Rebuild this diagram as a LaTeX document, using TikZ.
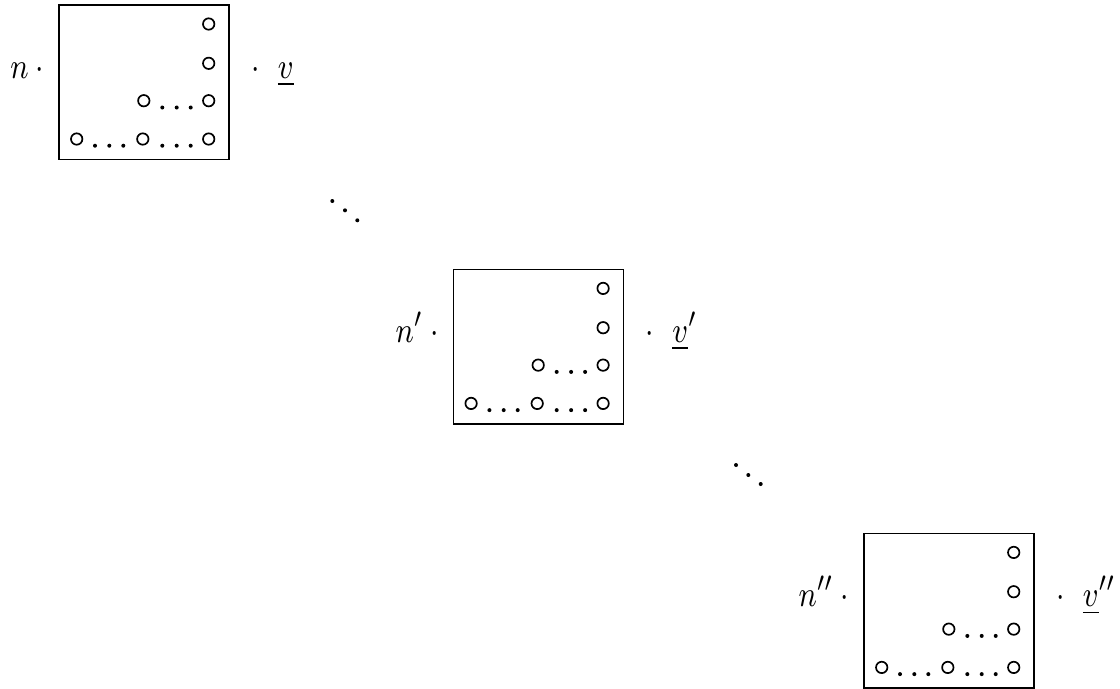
\documentclass[tikz,border=0pt]{standalone}
\usepackage{graphicx}
\begin{document}
\tikzset{
  px/.style={x=0.25pt,y=-0.25pt},
  matframe/.style={draw, line width=0.4pt, minimum width=42.5pt, minimum height=38.6pt, inner sep=0pt, anchor=north west},
  ring/.style={draw, circle, line width=0.42pt, minimum size=2.85pt, inner sep=0pt},
  dotnode/.style={fill, circle, minimum size=1.0pt, inner sep=0pt},
  lbl/.style={inner sep=0pt, font=\fontsize{9.5}{11}\selectfont},
}
\newcommand\mymatbox[3]{%
  \begin{scope}[shift={(#2,#3)}]
    \node[matframe] (#1) at (0,0) {};
    \foreach \cx/\cy [count=\i] in {150.4/19.7, 150.4/59, 150.4/96.4, 85.5/96.4, 18.4/134.7, 84.5/134.7, 150.4/134.7}
      \node[ring] (#1-r\i) at (\cx,\cy) {};
    \foreach \dx [count=\i] in {104,118.4,132.4}
      \node[dotnode] (#1-a\i) at (\dx,103.2) {};
    \foreach \dx [count=\i] in {36.7,51,65,104,118.4,132.4}
      \node[dotnode] (#1-b\i) at (\dx,141.4) {};
  \end{scope}}
\newcommand\sqz[1]{\scalebox{0.82}[1]{#1}}
\begin{tikzpicture}[px]
  \useasboundingbox (0,0) rectangle (1120,688);
  \mymatbox{b1}{58.3}{4.3}
  \mymatbox{b2}{452.7}{268.7}
  \mymatbox{b3}{863.3}{532.7}
  % labels
  \node[lbl, anchor=base east] (n1) at (45.05,78.3) {\sqz{$n\hspace{2.2pt}\cdot$}};
  \node[lbl, anchor=base west] (v1) at (250.65,78.3) {\sqz{$\cdot\hspace{5.5pt}\underline{v}$}};
  \node[lbl, anchor=base east] (n2) at (439.45,342.4) {\sqz{$n'\hspace{2.2pt}\cdot$}};
  \node[lbl, anchor=base west] (v2) at (645.05,342.4) {\sqz{$\cdot\hspace{5.5pt}\underline{v}'$}};
  \node[lbl, anchor=base east] (n3) at (850.05,606.7) {\sqz{$n''\hspace{2.2pt}\cdot$}};
  \node[lbl, anchor=base west] (v3) at (1055.65,606.7) {\sqz{$\cdot\hspace{5.5pt}\underline{v}''$}};
  % diagonal dots
  \foreach \x/\y [count=\i] in {332.3/201, 345/210.3, 357.3/220.3}
    \node[dotnode] (d1-\i) at (\x,\y) {};
  \foreach \x/\y [count=\i] in {736/465, 748.3/475, 760.7/484}
    \node[dotnode] (d2-\i) at (\x,\y) {};
\end{tikzpicture}
\end{document}
